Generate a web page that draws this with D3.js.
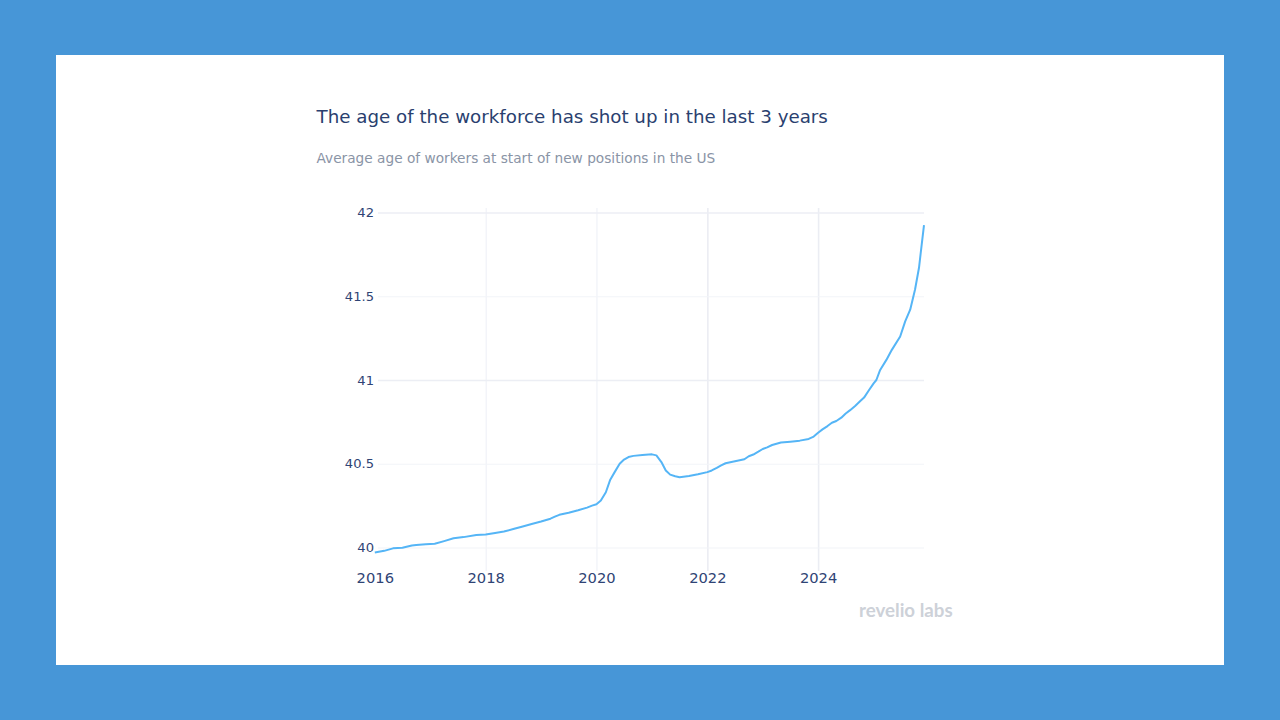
<!DOCTYPE html>
<html>
<head>
<meta charset="utf-8">
<script src="https://cdn.jsdelivr.net/npm/d3@7/dist/d3.min.js"></script>
<style>
html,body{margin:0;padding:0;background:#4796d7;overflow:hidden}
svg{display:block}
text{font-family:"DejaVu Sans",Verdana,sans-serif}
</style>
</head>
<body>
<svg id="c" width="1280" height="720"></svg>
<script>
const titleText = "The age of the workforce has shot up in the last 3 years";
const subtitleText = "Average age of workers at start of new positions in the US";
const logoText = "revelio labs";
const yTicks = [40, 40.5, 41, 41.5, 42];
const xTickYears = [2016, 2018, 2020, 2022, 2024];
const dates = [
 2016.0,2016.17,2016.33,2016.5,2016.67,2016.75,2016.92,2017.08,2017.25,2017.42,2017.6,2017.83,2018.0,2018.17,2018.33,
 2018.5,2018.67,2018.83,2019.0,2019.17,2019.25,2019.33,2019.5,2019.67,2019.83,2019.92,2020.0,2020.08,2020.17,2020.25,
 2020.33,2020.42,2020.5,2020.58,2020.67,2020.83,2021.0,2021.08,2021.17,2021.25,2021.33,2021.42,2021.5,2021.67,2021.83,
 2022.0,2022.08,2022.17,2022.25,2022.33,2022.5,2022.67,2022.75,2022.83,2022.92,2023.0,2023.08,2023.17,2023.33,2023.5,
 2023.67,2023.83,2023.92,2024.0,2024.08,2024.17,2024.25,2024.33,2024.42,2024.5,2024.58,2024.67,2024.75,2024.83,2024.92,
 2025.0,2025.05,2025.12,2025.23,2025.33,2025.48,2025.57,2025.66,2025.75,2025.82,2025.87,2025.91
];
const ages = [
 39.97,39.98,39.995,39.998,40.012,40.015,40.02,40.022,40.038,40.055,40.062,40.074,40.078,40.087,40.095,
 40.11,40.125,40.14,40.155,40.172,40.184,40.195,40.207,40.222,40.238,40.25,40.258,40.28,40.33,40.405,
 40.45,40.5,40.525,40.54,40.547,40.552,40.556,40.55,40.51,40.46,40.435,40.425,40.42,40.427,40.437,
 40.45,40.46,40.475,40.49,40.503,40.515,40.527,40.545,40.555,40.572,40.588,40.598,40.612,40.627,40.632,
 40.638,40.648,40.662,40.685,40.705,40.725,40.745,40.755,40.775,40.80,40.82,40.845,40.87,40.895,40.94,
 40.98,41.0,41.06,41.12,41.18,41.26,41.35,41.42,41.54,41.67,41.81,41.925
];

const svg = d3.select("#c");
svg.append("rect").attr("x",56).attr("y",55).attr("width",1168).attr("height",610).attr("fill","#ffffff");

const toDate = d => { const y = Math.floor(d); return new Date(Date.UTC(y, 0, 1 + (d - y) * 365.25)); };
const x = d3.scaleUtc().domain([toDate(2016), toDate(2025.91)]).range([374.8, 924]);
const y = d3.scaleLinear().domain([40, 42]).range([547.5, 212.5]);

// gridlines
const strongX = [2022, 2024];
const gridX = d3.axisBottom(x).tickValues(xTickYears.slice(1).map(toDate)).tickSize(-363).tickFormat("");
const gx = svg.append("g").attr("transform","translate(0,571)").call(gridX);
gx.select(".domain").remove();
gx.selectAll("line")
  .attr("stroke",d=>strongX.includes(d.getUTCFullYear())?"#ebedf3":"#f1f3f8")
  .attr("stroke-width",d=>strongX.includes(d.getUTCFullYear())?1.6:1.3);

const gridY = d3.axisLeft(y).tickValues(yTicks).tickSize(-546).tickFormat("");
const gy = svg.append("g").attr("transform","translate(378,0)").call(gridY);
gy.select(".domain").remove();
gy.selectAll("line")
  .attr("stroke",d=>(d===41||d===42)?"#eceef4":"#f2f4f8")
  .attr("stroke-width",d=>(d===41||d===42)?1.5:1.2);

// line
const line = d3.line().x((d,i)=>x(toDate(dates[i]))).y(d=>y(d)).curve(d3.curveLinear);
svg.append("path").datum(ages).attr("d",line).attr("fill","none")
  .attr("stroke","#55b5f6").attr("stroke-width",2).attr("stroke-linejoin","round");

// axis labels
const axX = d3.axisBottom(x).tickValues(xTickYears.map(toDate)).tickSize(0).tickPadding(0).tickFormat(d=>d.getUTCFullYear());
const ax = svg.append("g").attr("transform","translate(0,573)").call(axX);
ax.select(".domain").remove();
ax.selectAll("text").attr("fill","#2f4475").attr("font-size",14.7).attr("font-family",'"DejaVu Sans"');

const axY = d3.axisLeft(y).tickValues(yTicks).tickSize(0).tickPadding(0).tickFormat(d=>d);
const ay = svg.append("g").attr("transform","translate(374,0)").call(axY);
ay.select(".domain").remove();
ay.selectAll("text").attr("fill","#2f4475").attr("font-size",13.1).attr("font-family",'"DejaVu Sans"');

// titles
svg.append("text").attr("x",316.5).attr("y",123).attr("font-size",18.26).attr("fill","#2a3f6f").text(titleText);
svg.append("text").attr("x",316.5).attr("y",163).attr("font-size",13.7).attr("fill","#8a94a6").text(subtitleText);

// logo
svg.append("text").attr("x",859).attr("y",617).attr("font-size",18.7).attr("font-weight",700)
  .attr("fill","#cdd1d8").style("font-family","Lato, sans-serif").text(logoText);
</script>
</body>
</html>
